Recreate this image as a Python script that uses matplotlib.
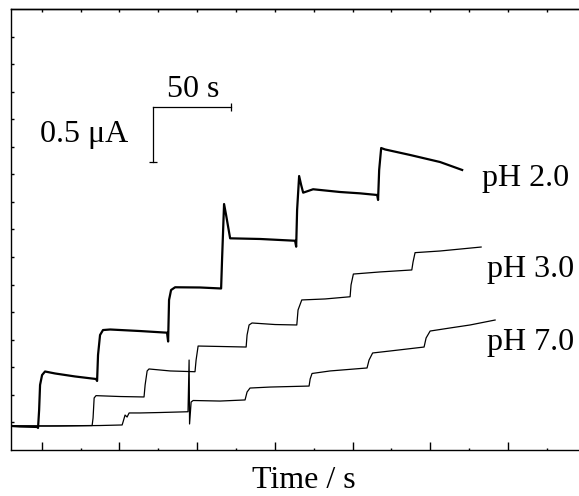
import numpy as np
import matplotlib
matplotlib.use("Agg")
import matplotlib.pyplot as plt

plt.rcParams['font.family'] = ['Liberation Serif', 'DejaVu Serif']
plt.rcParams['mathtext.fontset'] = 'stix'

# 计时电流曲线 (time / s, current / uA)
t_ph2 = [30.2, 36.0, 47.0, 47.6, 48.3, 48.9, 50.2, 52.1, 58.6, 71.4, 84.9, 85.6, 86.2,
         87.5, 89.4, 94.0, 113.3, 130.6, 131.3, 131.9, 133.2, 135.8, 151.9, 165.4,
         166.0, 167.3, 168.6, 171.2, 190.5, 213.0, 213.7, 214.3, 215.6, 216.9, 218.2,
         224.6, 242.0, 254.8, 265.8, 266.4, 267.1, 268.4, 270.9, 287.0, 306.3, 320.5]
i_ph2 = [0.218, 0.213, 0.209, 0.200, 0.363, 0.590, 0.680, 0.712, 0.694, 0.667, 0.644,
         0.626, 0.862, 1.043, 1.088, 1.093, 1.079, 1.064, 0.984, 1.361, 1.451, 1.476,
         1.474, 1.465, 1.723, 2.231, 2.132, 1.920, 1.914, 1.898, 1.844, 2.177, 2.485,
         2.404, 2.334, 2.365, 2.340, 2.328, 2.313, 2.268, 2.540, 2.739, 2.726, 2.676,
         2.612, 2.540]

t_ph3 = [30.2, 55.3, 82.4, 83.0, 83.7, 84.9, 100.4, 115.8, 116.5, 117.8, 119.0, 132.6,
         148.6, 149.3, 150.6, 164.7, 181.5, 182.1, 183.4, 185.3, 200.1, 214.1, 214.9,
         217.3, 232.3, 248.4, 249.0, 250.5, 267.6, 288.1, 288.9, 290.2, 306.3, 332.7]
i_ph3 = [0.218, 0.218, 0.222, 0.290, 0.472, 0.493, 0.485, 0.481, 0.590, 0.717, 0.735,
         0.717, 0.710, 0.816, 0.943, 0.939, 0.934, 1.043, 1.134, 1.152, 1.138, 1.134,
         1.270, 1.361, 1.370, 1.390, 1.497, 1.596, 1.615, 1.633, 1.705, 1.790, 1.805,
         1.841]

t_ph7 = [30.2, 61.8, 87.5, 101.7, 102.3, 103.6, 104.9, 106.2, 113.3, 126.1, 144.1,
         144.8, 145.1, 146.1, 147.4, 164.7, 180.8, 182.1, 184.0, 196.9, 222.0, 222.7,
         223.9, 235.5, 259.3, 260.6, 262.9, 274.1, 296.0, 297.3, 299.9, 312.8, 325.6,
         341.7]
i_ph7 = [0.218, 0.218, 0.222, 0.227, 0.254, 0.317, 0.299, 0.336, 0.336, 0.340, 0.347,
         0.816, 0.236, 0.435, 0.449, 0.444, 0.454, 0.526, 0.562, 0.571, 0.580, 0.644,
         0.694, 0.717, 0.744, 0.816, 0.880, 0.898, 0.934, 1.016, 1.079, 1.107, 1.134,
         1.179]

labels = ['pH 2.0', 'pH 3.0', 'pH 7.0']
label_x = [333.1, 336.3, 336.3]
label_y = [2.395, 1.565, 0.907]

# 标尺: 50 s, 0.5 uA
bar_t0, bar_i0 = 121.8, 3.108
bar_dt, bar_di = 50, 0.5

fig = plt.figure(figsize=(5.79, 4.96), dpi=100)
ax = fig.add_axes([11/579, 46/496, 574.7/579, 441/496])

ax.plot(t_ph2, i_ph2, color='black', lw=1.6)
ax.plot(t_ph3, i_ph3, color='black', lw=0.9)
ax.plot(t_ph7, i_ph7, color='black', lw=0.9)

for s, x, y in zip(labels, label_x, label_y):
    ax.text(x, y, s, fontsize=23, va='baseline', ha='left')

ax.plot([bar_t0, bar_t0 + bar_dt], [bar_i0, bar_i0], color='black', lw=0.9)
ax.plot([bar_t0, bar_t0], [bar_i0, bar_i0 - bar_di], color='black', lw=0.9)
ax.plot([bar_t0 + bar_dt], [bar_i0], marker='|', ms=6, mew=0.9, color='black')
ax.plot([bar_t0], [bar_i0 - bar_di], marker='_', ms=6, mew=0.9, color='black')
ax.text(130.6, 3.205, '50 s', fontsize=23, va='baseline', ha='left')
ax.text(48.9, 2.796, '0.5 \u03bcA', fontsize=23, va='baseline', ha='left')

ax.set_xlim(30.2, 400)
ax.set_ylim(0, 4)

ax.set_xticks(np.arange(50, 400, 50))
ax.set_xticks(np.arange(75, 400, 50), minor=True)
ax.set_yticks(np.arange(0.25, 4, 0.25))
ax.tick_params(axis='x', which='major', direction='in', length=6, width=1.0,
               labelbottom=False, top=False)
ax.tick_params(axis='x', which='minor', direction='in', length=1.5, width=1.0, top=False)
ax.tick_params(axis='y', direction='in', length=2, width=1.0, labelleft=False)

sec = ax.secondary_xaxis('top')
sec.set_xticks(np.arange(50, 400, 25))
sec.tick_params(direction='in', length=2, width=1.0, labeltop=False)
sec.spines['top'].set_linewidth(1.0)

for sp in ax.spines.values():
    sp.set_linewidth(1.0)

ax.set_xlabel('Time / s', fontsize=23)
ax.xaxis.label.set_va('baseline')
ax.xaxis.set_label_coords((303.5 - 11) / 574.7, -38 / 441)

fig.savefig('out.png', dpi=100)
